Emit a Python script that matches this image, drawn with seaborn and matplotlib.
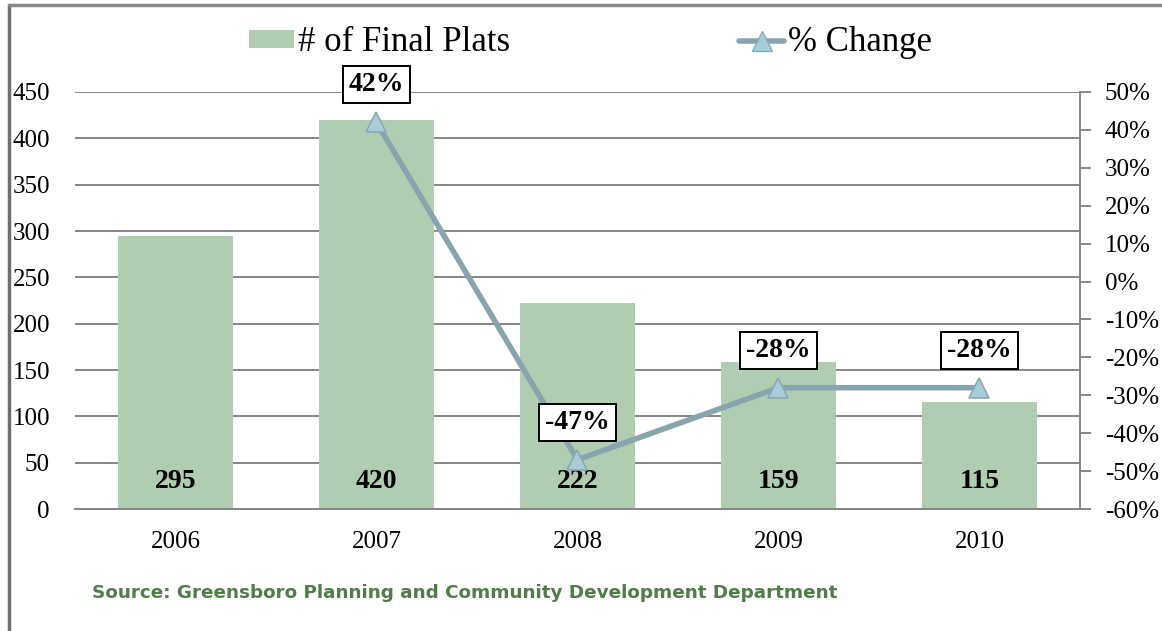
import matplotlib
matplotlib.use("Agg")
import matplotlib.pyplot as plt
import seaborn as sns
import pandas as pd
from matplotlib.lines import Line2D
from matplotlib.patches import Patch

# data
years = ["2006", "2007", "2008", "2009", "2010"]
final_plats = [295, 420, 222, 159, 115]
pct_years = ["2007", "2008", "2009", "2010"]
pct_change = [42, -47, -28, -28]

left_ticks = list(range(0, 451, 50))
right_ticks = list(range(-60, 51, 10))

BAR_COLOR = "#B0CDB1"
LINE_COLOR = "#87A4AF"
MARKER_FACE = "#A9CDD8"
MARKER_EDGE = "#86AAB6"
GRID_COLOR = "#868686"
SOURCE_COLOR = "#4E7D47"

sns.set_theme(style="white")
plt.rcParams["font.family"] = ["Liberation Serif", "DejaVu Serif"]

fig = plt.figure(figsize=(11.62, 6.31), dpi=100)
ax = fig.add_axes([0.0645, 0.1933, 0.8649, 0.6609])

bars = pd.DataFrame({"year": years, "plats": final_plats})
sns.barplot(data=bars, x="year", y="plats", order=years, color=BAR_COLOR,
            saturation=1, width=0.57, linewidth=0, edgecolor="none", ax=ax, zorder=2)

ax.set_ylim(0, 450)
ax.set_yticks(left_ticks)
ax.set_xlim(-0.5, len(years) - 0.5)
ax.yaxis.grid(True, color=GRID_COLOR, linewidth=1.4, zorder=0)
ax.set_axisbelow(True)
ax.set_xlabel("")
ax.set_ylabel("")
for side in ["left", "top", "right"]:
    ax.spines[side].set_visible(False)
ax.spines["bottom"].set_color(GRID_COLOR)
ax.spines["bottom"].set_linewidth(1.4)
ax.tick_params(axis="y", length=0, pad=18, labelsize=18, colors="black")
ax.tick_params(axis="x", length=0, pad=16, labelsize=18, colors="black")

# value labels at the foot of each bar
for i, v in enumerate(final_plats):
    ax.text(i, 30, str(v), ha="center", va="center", fontsize=20,
            fontweight="bold", color="black", zorder=5)

# % change on the secondary axis
ax2 = ax.twinx()
pct = pd.DataFrame({"year": pct_years, "pct": pct_change})
sns.pointplot(data=pct, x="year", y="pct", order=years, color=LINE_COLOR,
              markers="^", linestyles="-", ax=ax2, zorder=4)
for ln in ax2.lines:
    ln.set_linewidth(4)
    ln.set_markersize(15)
    ln.set_markerfacecolor(MARKER_FACE)
    ln.set_markeredgecolor(MARKER_EDGE)
    ln.set_markeredgewidth(1.2)
ax2.set_ylim(-60, 50)
ax2.set_yticks(right_ticks)
ax2.set_yticklabels([f"{t}%" for t in right_ticks])
ax2.set_xlim(-0.5, len(years) - 0.5)
ax2.set_xlabel("")
ax2.set_ylabel("")
ax2.grid(False)
for side in ["left", "top", "bottom"]:
    ax2.spines[side].set_visible(False)
ax2.spines["right"].set_color(GRID_COLOR)
ax2.spines["right"].set_linewidth(1.4)
ax2.tick_params(axis="y", direction="out", length=8, width=1.4, color=GRID_COLOR,
                pad=10, labelsize=18, labelcolor="black", right=True)

for yr, v in zip(pct_years, pct_change):
    ax2.annotate(f"{v}%", xy=(years.index(yr), v), xytext=(0, 27),
                 textcoords="offset points", ha="center", va="center",
                 fontsize=20, fontweight="bold", color="black", zorder=6,
                 bbox=dict(boxstyle="square,pad=0.22", fc="white", ec="black", lw=1.4))

# legend across the top
handles = [
    Patch(facecolor=BAR_COLOR, edgecolor="none", label="# of Final Plats"),
    Line2D([0], [0], color=LINE_COLOR, lw=4, marker="^", markersize=15,
           markerfacecolor=MARKER_FACE, markeredgecolor=MARKER_EDGE, label="% Change"),
]
fig.legend(handles=handles, loc="center", bbox_to_anchor=(0.508, 0.932), ncol=2,
           frameon=False, fontsize=25, labelcolor="black", handlelength=1.3,
           handleheight=0.45, handletextpad=0.1, columnspacing=6.6)

fig.text(0.079, 0.06, "Source: Greensboro Planning and Community Development Department",
         fontsize=13.2, fontweight="bold", color=SOURCE_COLOR, family="DejaVu Sans",
         va="center")

# partial frame of the original image (left and top edges)
fig.add_artist(Line2D([0.0075, 0.0075], [0, 0.992], transform=fig.transFigure,
                      color="#6E6E6E", lw=2.5))
fig.add_artist(Line2D([0.0075, 1], [0.992, 0.992], transform=fig.transFigure,
                      color="#8A8A8A", lw=2.5))

fig.savefig("out.png", dpi=100, facecolor="white")
